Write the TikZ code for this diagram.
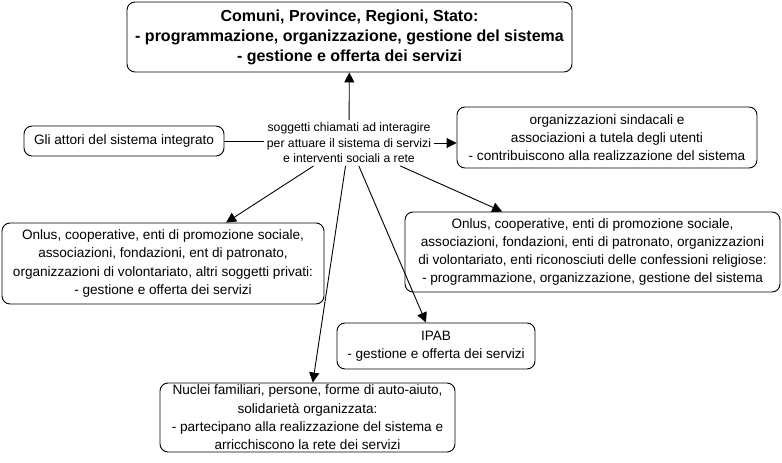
\documentclass[tikz,border=0pt]{standalone}
\usepackage{fontspec}
\setmainfont{Liberation Sans}
\usetikzlibrary{arrows.meta}
\definecolor{mappaline}{RGB}{0,0,0}

\begin{document}
\begin{tikzpicture}[>={Triangle[length=10pt,width=10pt]},x=1pt,y=-1pt,
  line width=0.9pt,
  attore/.style={draw=mappaline,rounded corners=8pt,align=center,inner sep=0pt,
    font=\fontsize{13.6}{18.3}\selectfont},
  legame/.style={align=center,inner sep=2.5pt,font=\fontsize{12.2}{15.5}\selectfont},
  freccia/.style={->,mappaline}]
\useasboundingbox (0,0) rectangle (782,463);
% centro: i soggetti chiamati ad interagire
\node[legame] (soggetti) at (349,143)
  {soggetti chiamati ad interagire\\per attuare il sistema di servizi\\e interventi sociali a rete};
% --- enti pubblici in alto ---
\node[attore,minimum width=445pt,minimum height=70pt,
  font=\bfseries\fontsize{16}{20}\selectfont] (enti) at (349.5,37)
  {Comuni, Province, Regioni, Stato:\\- programmazione, organizzazione, gestione del sistema\\- gestione e offerta dei servizi};
\node[attore,minimum width=200pt,minimum height=30pt] (attori) at (124,141)
  {Gli attori del sistema integrato};
\node[attore,minimum width=300pt,minimum height=61pt] (sindacati) at (607,137.5)
  {organizzazioni sindacali e\\associazioni a tutela degli utenti\\- contribuiscono alla realizzazione del sistema};
% --- soggetti privati e terzo settore ---
\node[attore,minimum width=322pt,minimum height=81pt] (privati) at (163,263.5)
  {Onlus, cooperative, enti di promozione sociale,\\associazioni, fondazioni, ent di patronato,\\organizzazioni di volontariato, altri soggetti privati:\\- gestione e offerta dei servizi};
\node[attore,minimum width=375pt,minimum height=80pt] (terzo) at (592.5,252)
  {Onlus, cooperative, enti di promozione sociale,\\associazioni, fondazioni, enti di patronato, organizzazioni\\di volontariato, enti riconosciuti delle confessioni religiose:\\- programmazione, organizzazione, gestione del sistema};
\node[attore,minimum width=198pt,minimum height=46pt] (ipab) at (436,346)
  {IPAB\\- gestione e offerta dei servizi};
\node[attore,minimum width=295pt,minimum height=69pt] (famiglie) at (307.5,417.5)
  {Nuclei familiari, persone, forme di auto-aiuto,\\solidarietà organizzata:\\- partecipano alla realizzazione del sistema e\\arricchiscono la rete dei servizi};
% collegamenti
\draw[mappaline] (attori.east) -- (attori.east -| soggetti.west);
\draw[freccia] (soggetti) -- (enti);
\draw[freccia] (soggetti.east) -- (soggetti.east -| sindacati.west);
\draw[freccia] (soggetti) -- (privati);
\draw[freccia] (soggetti) -- (terzo);
\draw[freccia] (soggetti) -- (ipab);
\draw[freccia] (soggetti) -- (famiglie);
\end{tikzpicture}
\end{document}
